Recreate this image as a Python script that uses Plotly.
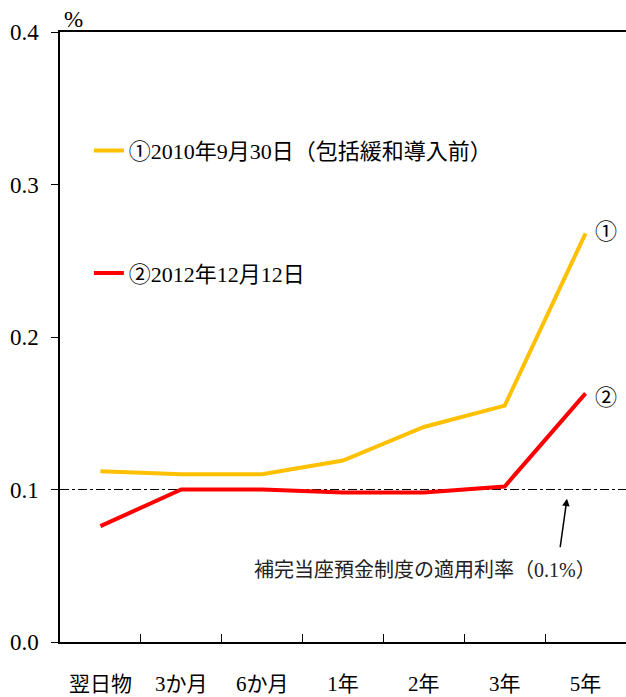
import plotly.graph_objects as go

categories = ["翌日物", "3か月", "6か月", "1年", "2年", "3年", "5年"]
tick_text = ["翌日物", "3か月", "6か月", "1年", "2年", "3年", "5年"]
series1_name = "①2010年9月30日（包括緩和導入前）"
series1 = [0.112, 0.110, 0.110, 0.119, 0.141, 0.155, 0.268]
series2_name = "②2012年12月12日"
series2 = [0.076, 0.100, 0.100, 0.098, 0.098, 0.102, 0.163]
policy_rate = 0.1
y_ticks = [0.0, 0.1, 0.2, 0.3, 0.4]

FONT = "Liberation Serif, Noto Sans CJK JP, serif"

fig = go.Figure()
fig.add_trace(go.Scatter(x=categories, y=series1, mode="lines", name=series1_name,
                         legendgroup="g1",
                         line=dict(color="#FFC000", width=4)))
fig.add_trace(go.Scatter(x=categories, y=series2, mode="lines", name=series2_name,
                         legendgroup="g2",
                         line=dict(color="#FF0000", width=4)))

# reference line at 0.1%
fig.add_shape(type="line", xref="paper", yref="y", x0=0, x1=1, y0=policy_rate, y1=policy_rate,
              line=dict(color="black", width=1, dash="dashdot"), layer="below")

# end labels
fig.add_annotation(x=categories[-1], y=series1[-1], text="①", showarrow=False,
                   xanchor="left", xshift=7, yshift=2, font=dict(family=FONT, size=22, color="black"))
fig.add_annotation(x=categories[-1], y=series2[-1], text="②", showarrow=False,
                   xanchor="left", xshift=7, yshift=-4, font=dict(family=FONT, size=22, color="black"))

# arrow + note
fig.add_annotation(x=5.77, y=0.094, ax=-7, ay=50, text="", showarrow=True,
                   arrowhead=2, arrowsize=1, arrowwidth=1.5, arrowcolor="black")
fig.add_annotation(x=4.02, y=0.047, text="補完当座預金制度の適用利率（0.1%）", showarrow=False,
                   font=dict(family=FONT, size=20, color="#222"))

# unit
fig.add_annotation(xref="paper", yref="paper", x=0.0, y=1.0, text="%", showarrow=False,
                   xanchor="left", yanchor="bottom", xshift=2, yshift=-2,
                   font=dict(family=FONT, size=23, color="black"))

fig.update_layout(
    width=626, height=697,
    margin=dict(l=60, r=0, t=32, b=55),
    paper_bgcolor="white", plot_bgcolor="white",
    font=dict(family=FONT, size=21, color="black"),
    showlegend=True,
    legend=dict(x=0.051, y=0.84, xanchor="left", yanchor="top",
                bgcolor="rgba(0,0,0,0)", tracegroupgap=91, itemwidth=30,
                font=dict(family=FONT, size=22, color="black")),
    xaxis=dict(type="category", categoryorder="array", categoryarray=categories,
               tickvals=categories, ticktext=tick_text, range=[-0.5, 6.5],
               showline=True, linecolor="black", linewidth=1.5, mirror=True,
               ticks="inside", tickson="boundaries", ticklen=8, tickcolor="black",
               ticklabelstandoff=22, showgrid=False, zeroline=False,
               tickfont=dict(family=FONT, size=21)),
    yaxis=dict(range=[0, 0.4], tickvals=y_ticks, tickformat=".1f",
               showline=True, linecolor="black", linewidth=1.5,
               ticks="outside", ticklen=7, tickcolor="black",
               ticklabelstandoff=8, showgrid=False, zeroline=False,
               tickfont=dict(family=FONT, size=23)),
)

fig.write_html("out.html", config={"displayModeBar": False},
               post_script="document.body.style.margin='0';document.body.style.overflow='hidden';")
